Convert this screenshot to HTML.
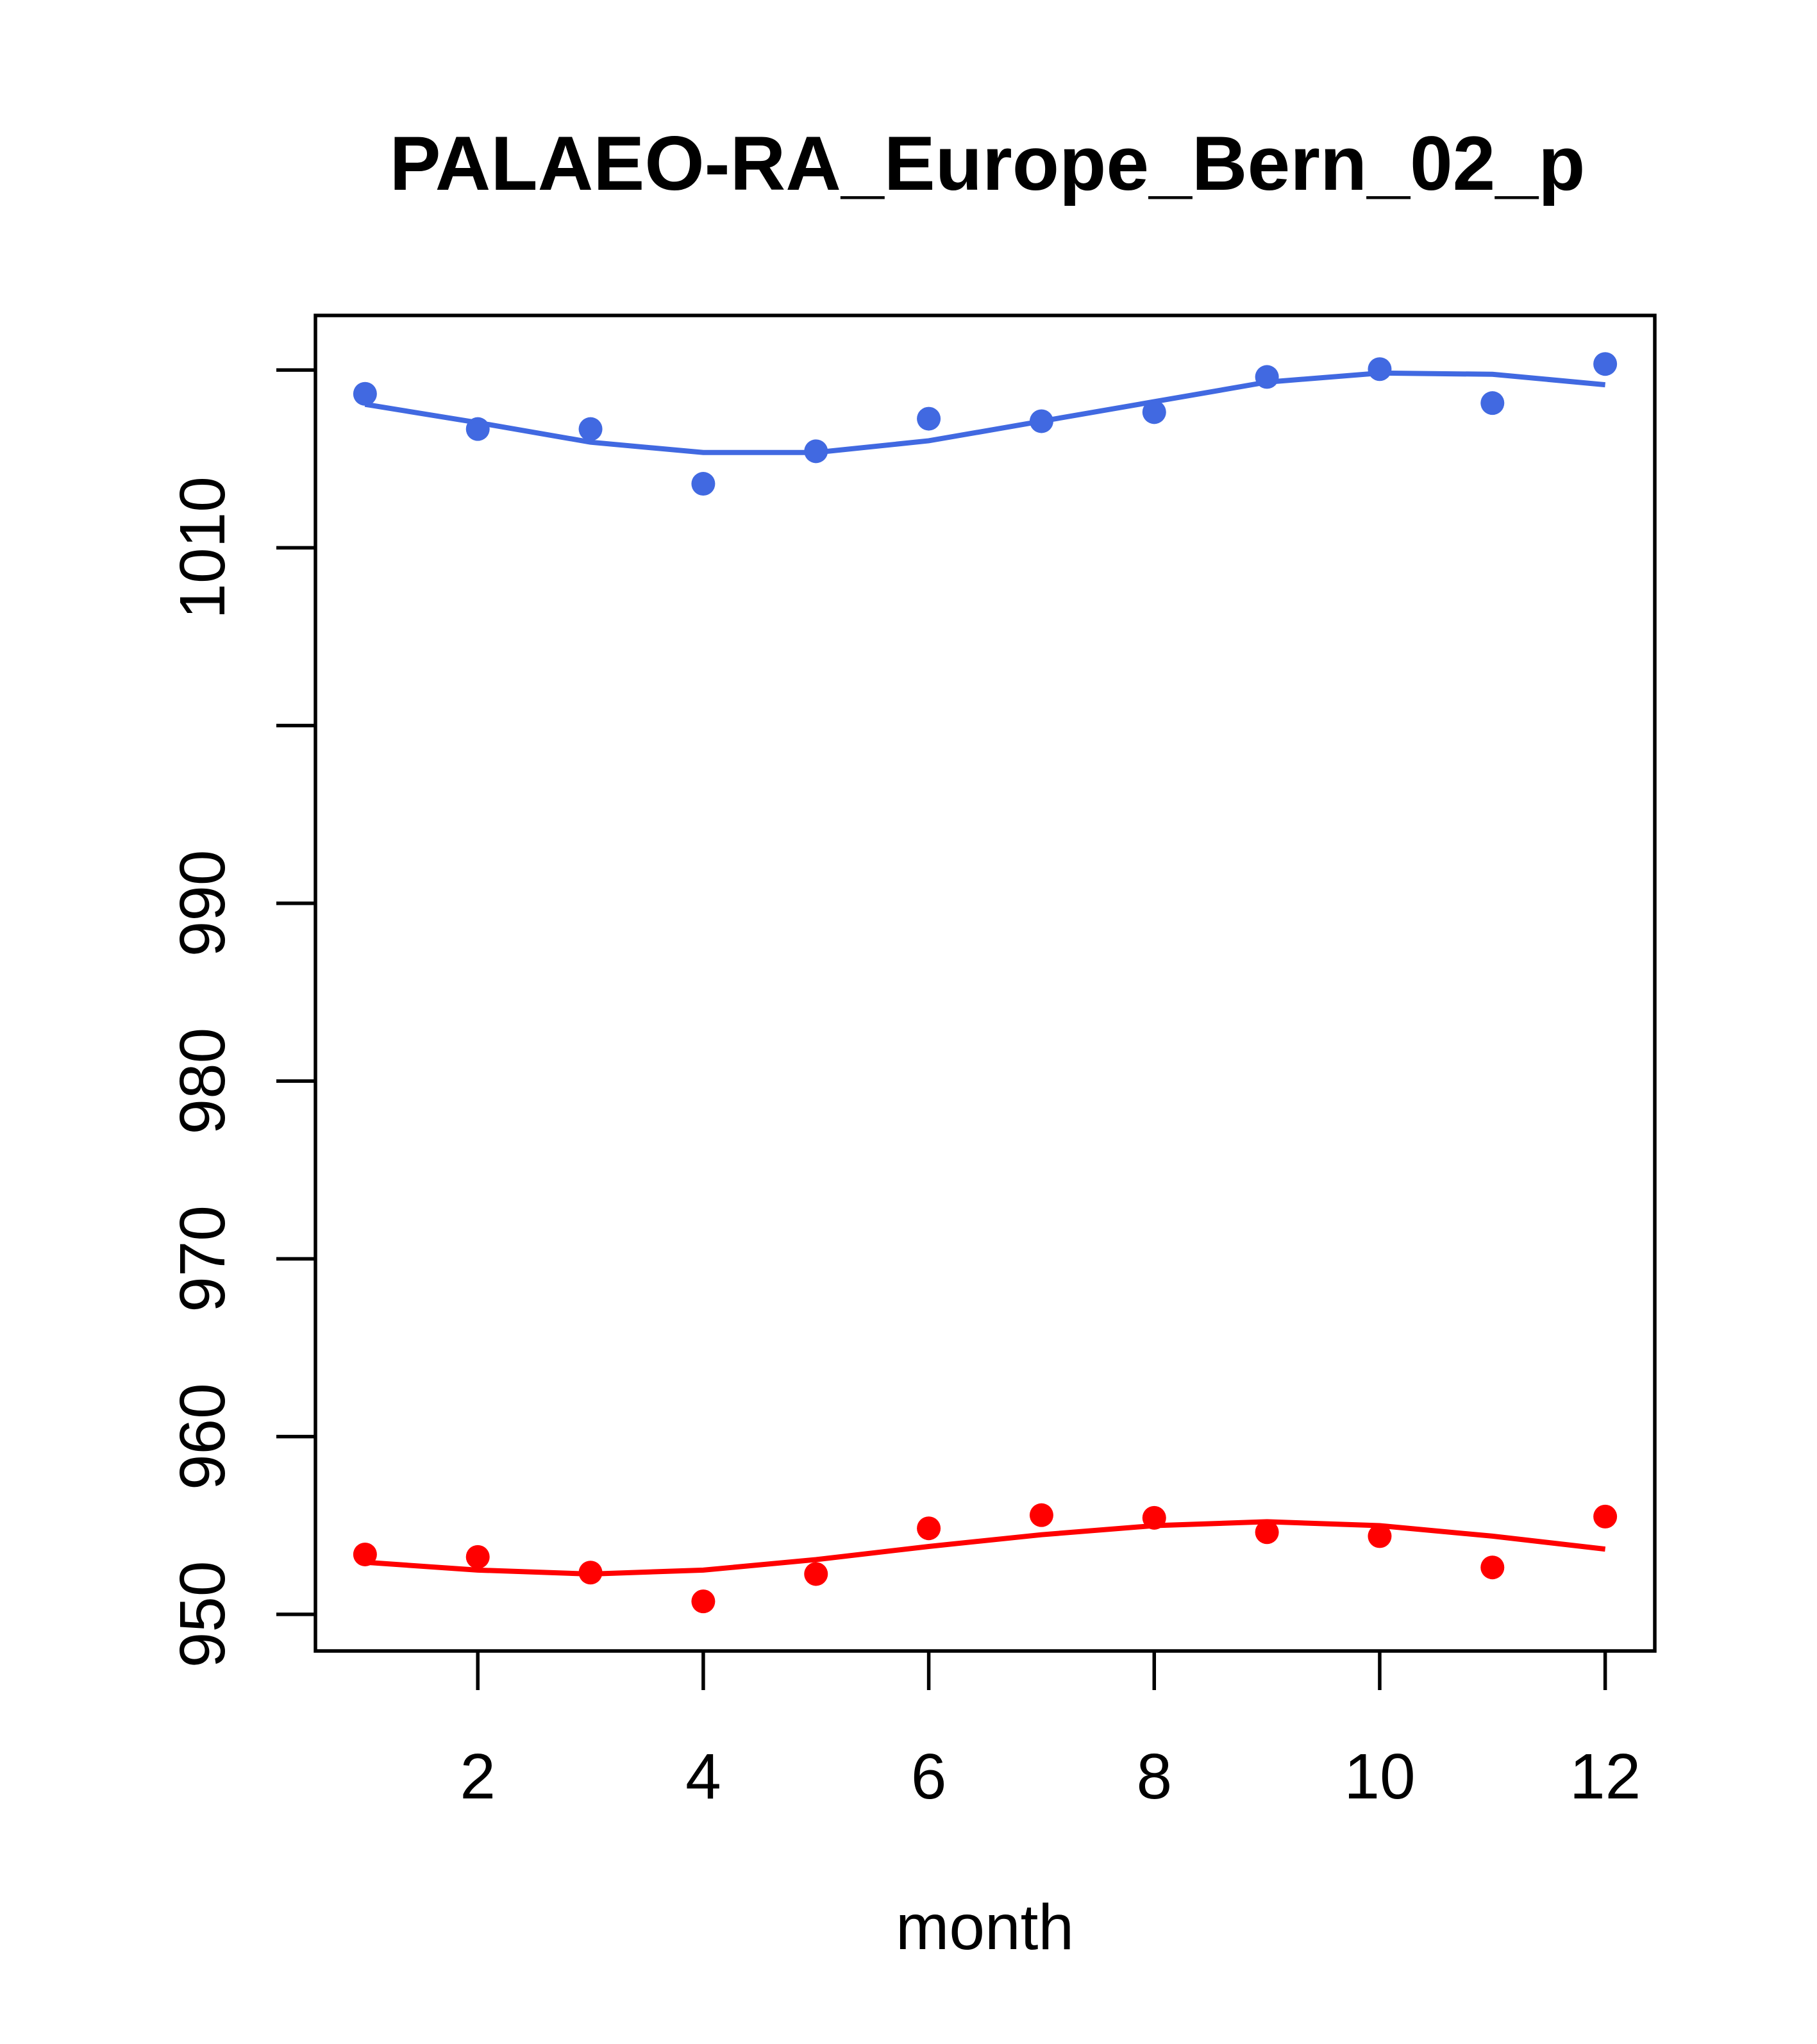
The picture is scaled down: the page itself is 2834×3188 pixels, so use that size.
<!DOCTYPE html>
<html><head><meta charset="utf-8"><style>body{margin:0;background:#fff}svg{display:block}</style></head>
<body>
<svg id="chart" xmlns="http://www.w3.org/2000/svg" width="2834" height="3188" viewBox="0 0 2834 3188" font-family="Liberation Sans, sans-serif">
<rect width="2834" height="3188" fill="#fff"/>
<text x="1540" y="296" font-size="120" font-weight="bold" text-anchor="middle">PALAEO-RA_Europe_Bern_02_p</text>
<text x="1536" y="3040" font-size="100" text-anchor="middle">month</text>
<rect x="492" y="492" width="2089" height="2083" fill="none" stroke="#000" stroke-width="5.5"/>
<g id="axes"></g>
<g id="series"></g>
</svg>
<script>
const months = [1,2,3,4,5,6,7,8,9,10,11,12];
const bluePoints = [1018.66,1016.68,1016.68,1013.6,1015.43,1017.26,1017.12,1017.63,1019.61,1020.05,1018.14,1020.34];
const blueLine = [1018.07,1017.04,1015.94,1015.36,1015.36,1016.02,1017.12,1018.22,1019.32,1019.83,1019.76,1019.17];
const redPoints = [953.37,953.23,952.35,950.73,952.27,954.84,955.58,955.43,954.62,954.40,952.64,955.50];
const redLine = [952.93,952.49,952.27,952.49,953.08,953.82,954.48,954.99,955.21,954.99,954.40,953.67];
const xTicks = [2,4,6,8,10,12];
const yTicks = [950,960,970,980,990,1000,1010,1020];
const yTickLabels = ["950","960","970","980","990","","1010",""];

const NS = "http://www.w3.org/2000/svg";
const X0 = 492, X1 = 2581, Y0 = 492, Y1 = 2575;
const xMin = 0.56, xMax = 12.44, yMin = 947.94, yMax = 1023.07;
function xs(v){ return X0 + (v - xMin) / (xMax - xMin) * (X1 - X0); }
function ys(v){ return Y1 - (v - yMin) / (yMax - yMin) * (Y1 - Y0); }
function mk(tag, attrs){ const e = document.createElementNS(NS, tag); for (const k in attrs) e.setAttribute(k, attrs[k]); return e; }
const axes = document.getElementById('axes');
const series = document.getElementById('series');

xTicks.forEach(t => {
  const l = mk('line', {x1: xs(t), x2: xs(t), y1: Y1, y2: Y1 + 61, stroke: '#000', 'stroke-width': 5.5});
  
  
  axes.appendChild(l);
  const tx = mk('text', {x: xs(t), y: 2805, 'font-size': 100, 'text-anchor': 'middle'});
  
  
  tx.textContent = String(t);
  axes.appendChild(tx);
});
yTicks.forEach((t, i) => {
  const l = mk('line', {x1: X0 - 61, x2: X0, y1: ys(t), y2: ys(t), stroke: '#000', 'stroke-width': 5.5});
  
  
  axes.appendChild(l);
  if (yTickLabels[i]) {
    const tx = mk('text', {x: 0, y: 0, 'font-size': 100, 'text-anchor': 'middle', transform: `translate(350,${ys(t)}) rotate(-90)`});
    
    
    tx.textContent = yTickLabels[i];
    axes.appendChild(tx);
  }
});

function drawSeries(pts, line, color, name){
  const pl = mk('polyline', {points: line.map((v, i) => xs(months[i]) + ',' + ys(v)).join(' '), fill: 'none', stroke: color, 'stroke-width': 8});
  
  
  series.appendChild(pl);
  pts.forEach((v, i) => {
    const c = mk('circle', {cx: xs(months[i]), cy: ys(v), r: 18.5, fill: color});
    
    
    series.appendChild(c);
  });
}
drawSeries(bluePoints, blueLine, '#4169E1', 'blue-series');
drawSeries(redPoints, redLine, '#FF0000', 'red-series');
</script>
</body></html>
